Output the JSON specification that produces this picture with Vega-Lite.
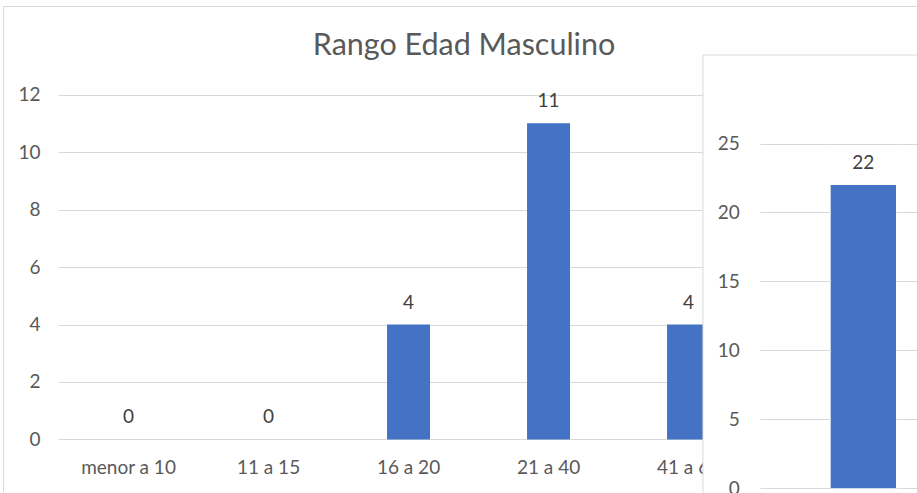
{
  "$schema": "https://vega.github.io/schema/vega-lite/v6.json",
  "background": "white",
  "width": 913,
  "height": 486,
  "padding": {"left": 3, "top": 6, "right": 1, "bottom": 1},
  "autosize": {"type": "none"},
  "config": {
    "view": {"stroke": null},
    "font": "Lato",
    "axis": {"labelFont": "Lato", "labelFontSize": 19, "labelColor": "#595959", "title": null}
  },
  "datasets": {
    "masculino": [
      {"rango": "menor a 10", "cantidad": 0},
      {"rango": "11 a 15", "cantidad": 0},
      {"rango": "16 a 20", "cantidad": 4},
      {"rango": "21 a 40", "cantidad": 11},
      {"rango": "41 a 60", "cantidad": 4},
      {"rango": "mayor a 60", "cantidad": 3}
    ],
    "total": [
      {"grupo": "Total", "cantidad": 22}
    ]
  },
  "title": {"text": "Rango Edad Masculino", "frame": "group", "offset": -55, "fontSize": 30.5, "font": "Lato", "fontWeight": "normal", "color": "#595959", "anchor": "middle", "dx": 4.5},
  "layer": [
    {
      "data": {"name": "masculino"},
      "layer": [
        {
          "mark": {"type": "bar", "color": "#4472C4"},
          "encoding": {
            "x": {"field": "rango", "type": "nominal", "sort": null,
              "scale": {"paddingInner": 0.693, "paddingOuter": 0.607, "align": 0.612},
              "axis": {"orient": "top", "labels": false, "ticks": false, "grid": false, "domain": true, "domainColor": "#d9d9d9", "title": null}},
            "y": {"field": "cantidad", "type": "quantitative",
              "scale": {"domain": [-1.8261, 15.0783], "nice": false, "zero": false},
              "axis": {"orient": "left", "labels": false, "ticks": false, "grid": false, "domain": true, "domainColor": "#d9d9d9", "title": null}}
          }
        },
        {
          "mark": {"type": "text", "baseline": "alphabetic", "dy": -16, "fontSize": 19, "font": "Lato", "color": "#404040"},
          "encoding": {
            "x": {"field": "rango", "type": "nominal", "sort": null,
              "scale": {"paddingInner": 0.693, "paddingOuter": 0.607, "align": 0.612},
              "axis": {"orient": "bottom", "offset": -52.5, "domain": false, "ticks": false, "grid": false, "labelAngle": 0, "labelPadding": 33.5, "labelBaseline": "alphabetic", "title": null}},
            "y": {"field": "cantidad", "type": "quantitative",
              "scale": {"domain": [-1.8261, 15.0783], "nice": false, "zero": false},
              "axis": {"orient": "left", "offset": -55.5, "domain": false, "grid": false, "ticks": true, "tickSize": -840, "tickColor": "#d9d9d9", "tickWidth": 1, "values": [0, 2, 4, 6, 8, 10, 12], "labelPadding": 858.5, "title": null}},
            "text": {"field": "cantidad", "type": "quantitative"}
          }
        }
      ],
      "resolve": {"axis": {"x": "independent", "y": "independent"}}
    },
    {
      "data": {"name": "total"},
      "layer": [
        {
          "mark": {"type": "rect", "fill": "white", "stroke": "#d9d9d9", "strokeWidth": 1, "width": {"band": 4.911}},
          "encoding": {
            "x": {"field": "grupo", "type": "nominal",
              "scale": {"paddingInner": 0.8459, "paddingOuter": 1, "align": 0.9764},
              "axis": null},
            "y": {"datum": 31.417, "type": "quantitative",
              "scale": {"domain": [-0.2683, 34.97], "nice": false, "zero": false},
              "axis": {"orient": "left", "offset": -827.7, "domain": false, "grid": false, "labels": false, "ticks": true, "tickSize": -65.3, "tickColor": "#d9d9d9", "tickWidth": 1, "values": [25], "zindex": 1, "title": null}},
            "y2": {"datum": -3}
          }
        },
        {
          "mark": {"type": "bar", "color": "#4472C4"},
          "encoding": {
            "x": {"field": "grupo", "type": "nominal",
              "scale": {"paddingInner": 0.8459, "paddingOuter": 1, "align": 0.9764},
              "axis": null},
            "y": {"field": "cantidad", "type": "quantitative",
              "scale": {"domain": [-0.2683, 34.97], "nice": false, "zero": false},
              "axis": {"orient": "left", "offset": -893, "domain": false, "grid": false, "labels": false, "ticks": true, "tickSize": -24, "tickColor": "#d9d9d9", "tickWidth": 1, "values": [0, 5, 10, 15, 20, 25], "zindex": 1, "title": null}}
          }
        },
        {
          "mark": {"type": "text", "baseline": "alphabetic", "dy": -16, "fontSize": 19, "font": "Lato", "color": "#404040"},
          "encoding": {
            "x": {"field": "grupo", "type": "nominal",
              "scale": {"paddingInner": 0.8459, "paddingOuter": 1, "align": 0.9764},
              "axis": null},
            "y": {"field": "cantidad", "type": "quantitative",
              "scale": {"domain": [-0.2683, 34.97], "nice": false, "zero": false},
              "axis": {"orient": "left", "offset": -757, "domain": false, "grid": false, "ticks": true, "tickSize": -70.7, "tickColor": "#d9d9d9", "tickWidth": 1, "values": [0, 5, 10, 15, 20, 25], "labelPadding": 91.4, "zindex": 1, "title": null}},
            "text": {"field": "cantidad", "type": "quantitative"}
          }
        }
      ],
      "resolve": {"axis": {"x": "independent", "y": "independent"}}
    }
  ],
  "resolve": {
    "scale": {"x": "independent", "y": "independent"},
    "axis": {"x": "independent", "y": "independent"}
  }
}
